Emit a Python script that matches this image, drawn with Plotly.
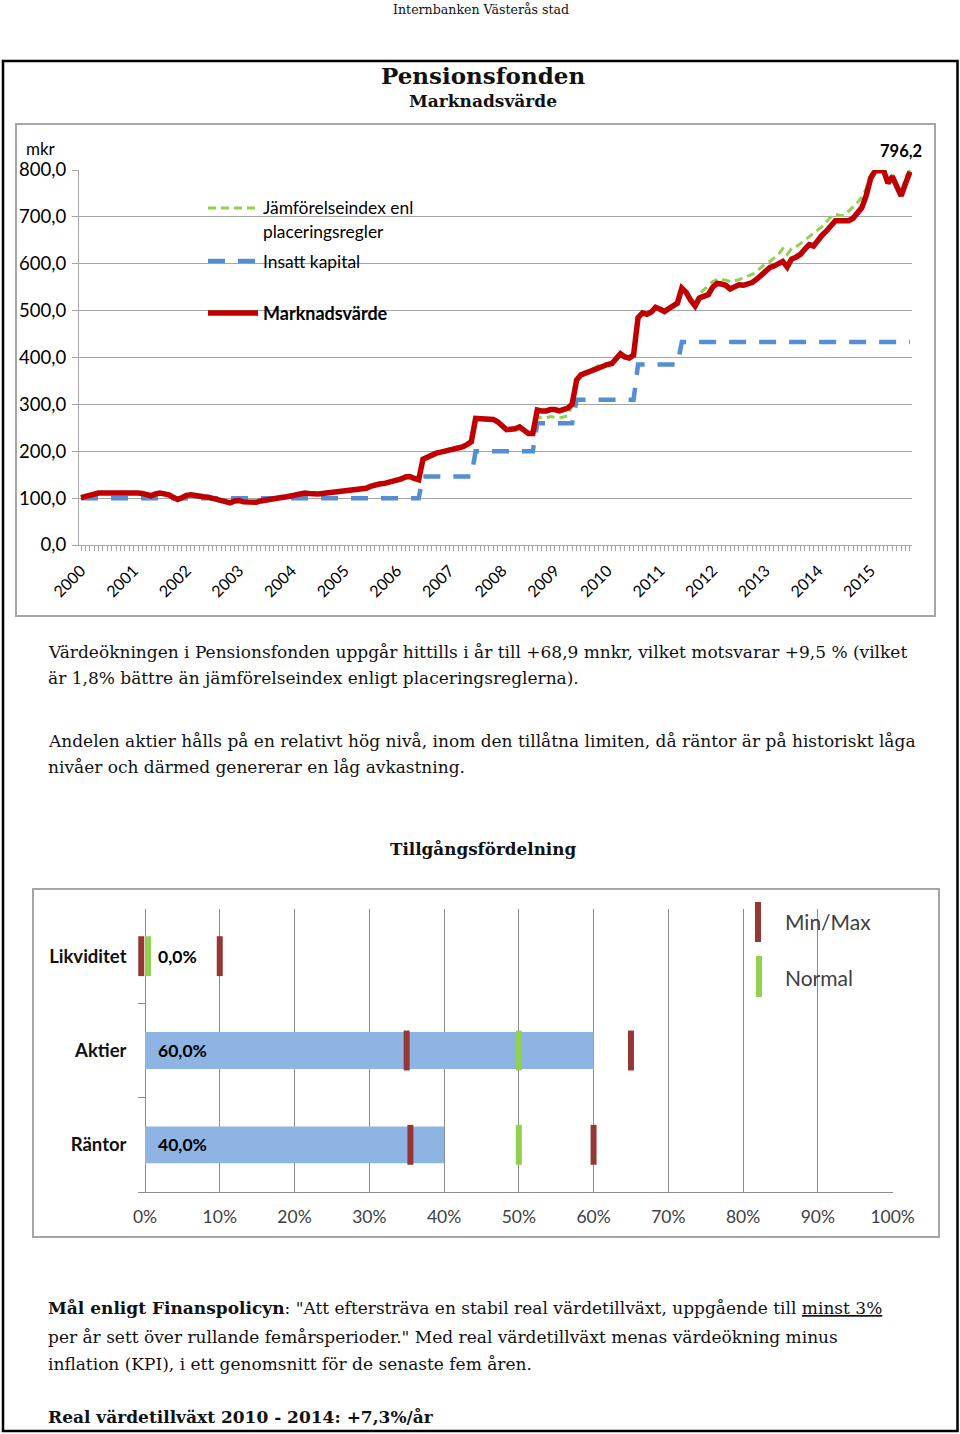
import pandas as pd
import plotly.graph_objects as go

W, H = 960, 1434


def px(x):
    return x / W


def py(y):
    return 1 - y / H


# ---------------- data: chart 1 (monthly, mkr) ----------------
marknadsvarde = [
    101, 104, 107, 109, 111, 111, 111, 111, 112, 113,
    112, 111, 111, 111, 110, 107, 105, 109, 111, 109,
    107, 102, 97, 101, 106, 107, 105, 104, 103, 102,
    100, 97, 94, 92, 90, 94, 95, 92, 91, 91,
    91, 94, 96, 98, 99, 100, 102, 103, 105, 107,
    110, 111, 110, 109, 109, 110, 111, 111, 112, 113,
    115, 117, 118, 119, 120, 121, 125, 129, 130, 131,
    133, 135, 138, 141, 145, 146, 142, 139, 183, 188,
    193, 196, 198, 200, 204, 207, 208, 209, 214, 220,
    270, 270, 270, 269, 268, 263, 256, 246, 247, 248,
    252, 243, 238, 238, 288, 286, 286, 289, 289, 286,
    288, 292, 301, 352, 363, 367, 370, 374, 380, 383,
    385, 387, 398, 408, 401, 399, 405, 485, 495, 492,
    497, 507, 503, 498, 504, 510, 516, 548, 539, 522,
    510, 527, 531, 534, 550, 558, 557, 554, 546, 550,
    555, 554, 556, 560, 567, 575, 585, 592, 595, 600,
    605, 593, 610, 614, 620, 631, 641, 638, 652, 662,
    670, 683, 692, 692, 693, 692, 697, 707, 720, 745,
    782, 798, 799, 799, 772, 786, 765, 745, 772, 796.2,
]

jamforelseindex = [
    101, 104, 107, 109, 111, 111, 111, 111, 112, 113,
    112, 111, 111, 111, 110, 107, 105, 109, 111, 109,
    107, 102, 97, 101, 106, 107, 105, 104, 103, 102,
    100, 97, 94, 92, 90, 94, 95, 92, 91, 91,
    91, 94, 96, 98, 99, 100, 102, 103, 105, 107,
    110, 111, 110, 109, 109, 110, 111, 112, 113, 114,
    116, 118, 119, 120, 121, 122, 126, 130, 131, 132,
    134, 136, 139, 142, 146, 147, 143, 140, 184, 189,
    194, 197, 199, 201, 205, 208, 209, 210, 215, 221,
    270, 270, 270, 269, 268, 263, 256, 246, 247, 248,
    252, 243, 238, 238, 272, 272, 271, 274, 273, 271,
    273, 276, 298, 353, 364, 369, 372, 377, 383, 386,
    388, 390, 400, 409, 403, 401, 406, 486, 496, 494,
    499, 508, 505, 500, 506, 512, 518, 549, 541, 524,
    515, 535, 545, 552, 562, 566, 567, 565, 562, 564,
    566, 570, 573, 577, 584, 592, 600, 605, 612, 620,
    632, 620, 632, 636, 643, 650, 658, 664, 672, 680,
    690, 700, 706, 703, 703, 712, 722, 730, 742, 760,
    790, 800, 800, 800, 775, 790, 770, 752, 785, 800,
]

insatt_kapital = [
    100, 100, 100, 100, 100, 100, 100, 100, 100, 100,
    100, 100, 100, 100, 100, 100, 100, 100, 100, 100,
    100, 100, 100, 100, 100, 100, 100, 100, 100, 100,
    100, 100, 100, 100, 100, 100, 100, 100, 100, 100,
    100, 100, 100, 100, 100, 100, 100, 100, 100, 100,
    100, 100, 100, 100, 100, 100, 100, 100, 100, 100,
    100, 100, 100, 100, 100, 100, 100, 100, 100, 100,
    100, 100, 100, 100, 100, 100, 100, 100, 146, 146,
    146, 146, 146, 146, 146, 146, 146, 146, 146, 146,
    200, 200, 200, 200, 200, 200, 200, 200, 200, 200,
    200, 200, 200, 200, 260, 260, 260, 260, 260, 260,
    260, 260, 260, 310, 310, 310, 310, 310, 310, 310,
    310, 310, 310, 310, 310, 310, 310, 385, 385, 385,
    385, 385, 385, 385, 385, 385, 385, 433, 433, 433,
    433, 433, 433, 433, 433, 433, 433, 433, 433, 433,
    433, 433, 433, 433, 433, 433, 433, 433, 433, 433,
    433, 433, 433, 433, 433, 433, 433, 433, 433, 433,
    433, 433, 433, 433, 433, 433, 433, 433, 433, 433,
    433, 433, 433, 433, 433, 433, 433, 433, 433, 433,
]

manader = pd.date_range("2000-01-01", periods=len(marknadsvarde), freq="MS")

serie_namn = ["Jämförelseindex enl<br>placeringsregler", "Insatt kapital", "Marknadsvärde"]

# ---------------- data: chart 2 (Tillgångsfördelning, %) ----------------
kategorier = ["Likviditet", "Aktier", "Räntor"]
andel = [0.0, 60.0, 40.0]
min_grans = [-0.5, 35.0, 35.5]
max_grans = [10.0, 65.0, 60.0]
normal_niva = [0.4, 50.0, 50.0]
pct_ticks = [0, 10, 20, 30, 40, 50, 60, 70, 80, 90, 100]

# ---------------- styles ----------------
RED = "#C00000"
BLUE = "#558ED5"
GREEN = "#92D050"
GRID = "#A6A6A6"
AX2 = "#8C8C8C"
BAR = "#8DB4E2"
MINMAX = "#953735"
SERIF = "DejaVu Serif"
SANS = "Lato"

fig = go.Figure()

# chart 1 lines
fig.add_trace(go.Scatter(x=manader, y=jamforelseindex, mode="lines", name=serie_namn[0],
                         line=dict(color=GREEN, width=3, dash="8px,5px"),
                         xaxis="x", yaxis="y", showlegend=False))
fig.add_trace(go.Scatter(x=manader, y=insatt_kapital, mode="lines", name=serie_namn[1],
                         line=dict(color=BLUE, width=4.5, dash="17px,13px"),
                         xaxis="x", yaxis="y", showlegend=False))
fig.add_trace(go.Scatter(x=manader, y=marknadsvarde, mode="lines", name=serie_namn[2],
                         line=dict(color=RED, width=5.5),
                         xaxis="x", yaxis="y", showlegend=False))

# chart 2 bars + markers
fig.add_trace(go.Bar(y=kategorier, x=andel, orientation="h", width=0.39,
                     marker=dict(color=BAR, line=dict(width=0)),
                     xaxis="x2", yaxis="y2", showlegend=False))
for vals, col in ((min_grans, MINMAX), (max_grans, MINMAX), (normal_niva, GREEN)):
    fig.add_trace(go.Scatter(y=kategorier, x=vals, mode="markers",
                             marker=dict(symbol="line-ns", size=28.5,
                                         line=dict(color=col, width=6)),
                             xaxis="x2", yaxis="y2", showlegend=False, cliponaxis=False))

shapes = []
annotations = []

# bar data labels
for kat, v in zip(kategorier, andel):
    annotations.append(dict(xref="x2", yref="y2", x=0, y=kat,
                            text="<b>%s%%</b>" % f"{v:.1f}".replace(".", ","),
                            showarrow=False, xanchor="left", yanchor="middle", xshift=11,
                            font=dict(family=SANS, size=17.5, color="#000000")))

# page frame
shapes.append(dict(type="rect", xref="paper", yref="paper", x0=px(3), x1=px(957.5),
                   y0=py(61), y1=py(1431), line=dict(color="#000000", width=2.5)))
# chart frames
shapes.append(dict(type="rect", xref="paper", yref="paper", x0=px(16), x1=px(935),
                   y0=py(124), y1=py(616), line=dict(color="#A6A6A6", width=2)))
shapes.append(dict(type="rect", xref="paper", yref="paper", x0=px(33), x1=px(939),
                   y0=py(889), y1=py(1237), line=dict(color="#A6A6A6", width=2)))

# chart 1 legend (manual)
leg = [(208, GREEN, 3, "8px,5px"), (261, BLUE, 4.5, "17px,13px"), (313, RED, 5.5, "solid")]
for yy, col, wdt, dsh in leg:
    shapes.append(dict(type="line", xref="paper", yref="paper", x0=px(208), x1=px(258),
                       y0=py(yy), y1=py(yy), line=dict(color=col, width=wdt, dash=dsh)))
leg_txt = [(208, "Jämförelseindex enl", 17.4), (231, "placeringsregler", 17.4),
           (261, "Insatt kapital", 17.4), (313, "<b>Marknadsvärde</b>", 18)]
for yy, t, fs in leg_txt:
    annotations.append(dict(xref="paper", yref="paper", x=px(261), y=py(yy), text=t,
                            showarrow=False, xanchor="left", yanchor="middle",
                            font=dict(family=SANS, size=fs, color="#000000")))

# chart 2 legend (manual)
shapes.append(dict(type="line", xref="paper", yref="paper", x0=px(758), x1=px(758),
                   y0=py(902), y1=py(942), line=dict(color=MINMAX, width=6)))
shapes.append(dict(type="line", xref="paper", yref="paper", x0=px(759), x1=px(759),
                   y0=py(956), y1=py(997), line=dict(color=GREEN, width=6)))
annotations.append(dict(xref="paper", yref="paper", x=px(783), y=py(921), text="Min/Max",
                        showarrow=False, xanchor="left", yanchor="middle",
                        font=dict(family=SANS, size=21, color="#404040")))
annotations.append(dict(xref="paper", yref="paper", x=px(783), y=py(977), text="Normal",
                        showarrow=False, xanchor="left", yanchor="middle",
                        font=dict(family=SANS, size=21, color="#404040")))

# chart 1 labels
annotations.append(dict(xref="paper", yref="paper", x=px(58), y=py(149), text="mkr",
                        showarrow=False, xanchor="right", yanchor="middle",
                        font=dict(family=SANS, size=17, color="#000000")))
annotations.append(dict(xref="x", yref="y", x=manader[-1], y=marknadsvarde[-1],
                        text="<b>%s</b>" % f"{marknadsvarde[-1]:.1f}".replace(".", ","),
                        showarrow=False, xanchor="center", yanchor="middle", yshift=21, xshift=-9,
                        font=dict(family=SANS, size=16.5, color="#000000")))


# page texts
def page_text(x, y, t, size=17, anchor="left", bold=False):
    annotations.append(dict(xref="paper", yref="paper", x=px(x), y=py(y),
                            text=("<b>%s</b>" % t) if bold else t,
                            showarrow=False, xanchor=anchor, yanchor="middle",
                            font=dict(family=SERIF, size=size, color="#111111")))


page_text(481, 9, "Internbanken Västerås stad", size=12.6, anchor="center")
page_text(483, 75, "Pensionsfonden", size=23, anchor="center", bold=True)
page_text(483, 101, "Marknadsvärde", size=17, anchor="center", bold=True)
page_text(46, 652, "Värdeökningen i Pensionsfonden uppgår hittills i år till +68,9 mnkr, vilket motsvarar +9,5 % (vilket")
page_text(46, 678, "är 1,8% bättre än jämförelseindex enligt placeringsreglerna).")
page_text(46, 741, "Andelen aktier hålls på en relativt hög nivå, inom den tillåtna limiten, då räntor är på historiskt låga")
page_text(46, 767, "nivåer och därmed genererar en låg avkastning.")
page_text(483, 849, "Tillgångsfördelning", size=16.8, anchor="center", bold=True)
page_text(46, 1308, "<b>Mål enligt Finanspolicyn</b>: \"Att eftersträva en stabil real värdetillväxt, uppgående till "
                    "<span style=\"text-decoration:underline\">minst 3%</span>")
page_text(46, 1337, "per år sett över rullande femårsperioder.\" Med real värdetillväxt menas värdeökning minus")
page_text(46, 1364, "inflation (KPI), i ett genomsnitt för de senaste fem åren.")
page_text(46, 1417, "Real värdetillväxt 2010 - 2014: +7,3%/år", bold=True)

half_month = pd.Timedelta(days=14)
PCT_PX = (893 - 145) / 100.0  # pixels per percent on chart 2
X2_MIN = -1.0

fig.update_layout(
    template="none",
    width=W, height=H,
    margin=dict(l=0, r=0, t=0, b=0, pad=0, autoexpand=False),
    paper_bgcolor="#FFFFFF", plot_bgcolor="rgba(0,0,0,0)",
    separators=", ",
    showlegend=False,
    shapes=shapes,
    annotations=annotations,
    xaxis=dict(
        domain=[px(79), px(912)], anchor="y", type="date", automargin=False,
        range=[manader[0] - half_month, manader[-1] + half_month],
        tick0="2000-01-01", dtick="M12", tickformat="%Y", tickangle=-45,
        ticks="outside", ticklen=5, tickcolor=GRID, ticklabelstandoff=4,
        minor=dict(dtick="M1", ticks="outside", ticklen=5, tickcolor=GRID, showgrid=False),
        showgrid=False, showline=True, linecolor=GRID, linewidth=1.3, zeroline=False,
        tickfont=dict(family=SANS, size=16, color="#000000"),
    ),
    yaxis=dict(
        domain=[py(545), py(170)], anchor="x", range=[0, 800], dtick=100, automargin=False,
        tickformat=".1f", ticks="outside", ticklen=6, tickcolor=GRID, ticklabelstandoff=2,
        showgrid=True, gridcolor=GRID, gridwidth=1.3, showline=True, linecolor=GRID, linewidth=1.3,
        zeroline=False,
        tickfont=dict(family=SANS, size=18.5, color="#000000"),
    ),
    xaxis2=dict(
        domain=[px(145 + X2_MIN * PCT_PX), px(893)], anchor="y2", range=[X2_MIN, 100.05],
        automargin=False,
        tickvals=pct_ticks, ticktext=["%d%%" % v for v in pct_ticks],
        ticks="", showgrid=True, gridcolor=AX2, gridwidth=1.2,
        showline=True, linecolor=AX2, linewidth=1.2,
        zeroline=True, zerolinecolor=AX2, zerolinewidth=1.2,
        ticklabelstandoff=9,
        tickfont=dict(family=SANS, size=17.5, color="#404040"),
    ),
    yaxis2=dict(
        domain=[py(1192), py(909)], anchor="x2", type="category", automargin=False,
        categoryorder="array", categoryarray=kategorier, autorange="reversed",
        tickson="boundaries", ticks="inside", ticklen=-X2_MIN * PCT_PX, tickcolor=AX2,
        tickwidth=1.2, showline=False, showgrid=False,
        ticklabelstandoff=10,
        tickfont=dict(family=SANS, size=18.5, color="#111111", weight="bold"),
    ),
)

fig.write_html("out.html", post_script="document.body.style.margin='0';",
               config={"displayModeBar": False})
